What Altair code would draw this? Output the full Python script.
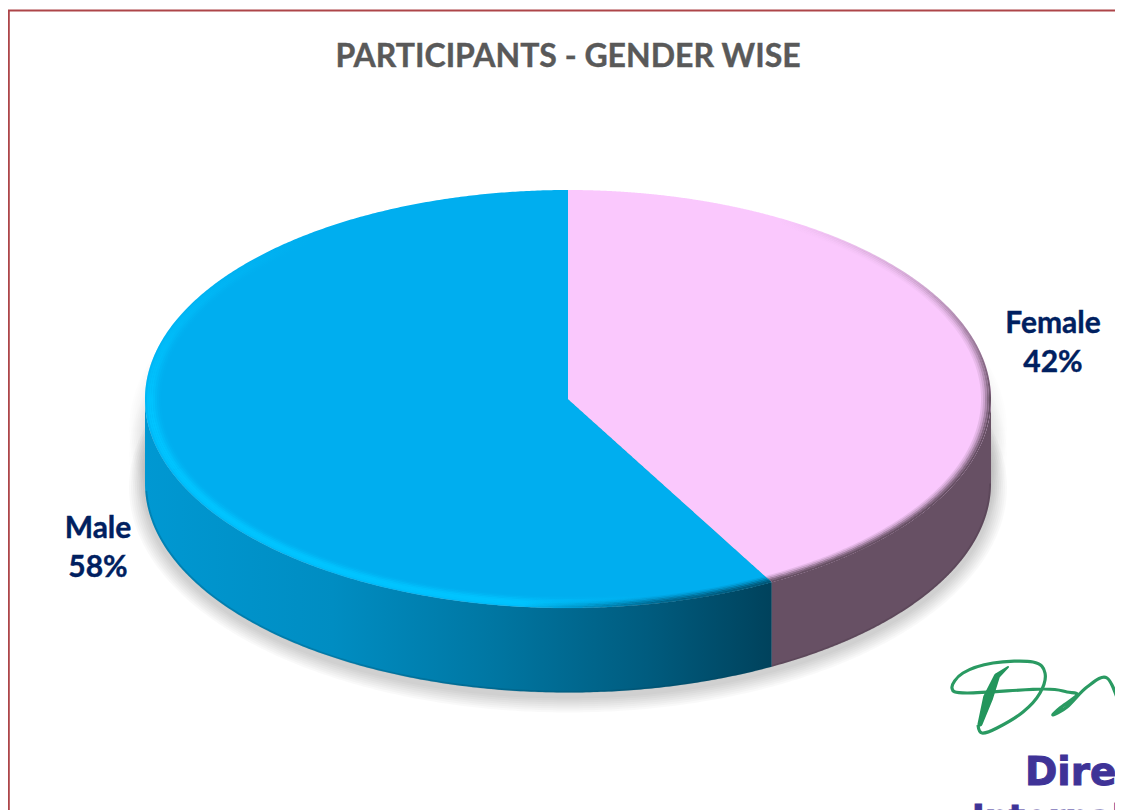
import numpy as np
import pandas as pd
import altair as alt

# ---- values ----
categories = ["Female", "Male"]
shares = [42, 58]
title_text = "PARTICIPANTS - GENDER WISE"
logo_lines = ["Direc", "Internal"]
sig_x = [1120, 1107, 1087, 1067, 1053, 1060, 1077, 1067, 1043, 967, 952, 963, 993, 1033, 1045, 1040, 1023, 997, 982, 978]
sig_y = [707, 678, 687, 707, 715, 708, 695, 692, 689, 693, 688, 673, 663, 662, 673, 693, 712, 728, 733, 725]
stroke_x = [1008, 997, 988, 980]
stroke_y = [667, 676, 698, 724]
stroke_w = [2, 6, 10, 5]

# ---- picture frame and pie geometry (picture pixels) ----
W, H = 1107, 802
CX, CY, RX, RY, DEPTH = 568.0, 399.0, 423.0, 209.0, 84.5
split = np.radians(shares[0] / sum(shares) * 360)
SX, SY = CX + RX * np.sin(split), CY - RY * np.cos(split)

xs = alt.Scale(domain=[8, 8 + W], range=[0, W], nice=False, zero=False)
ys = alt.Scale(domain=[8 + H, 8], range=[H, 0], nice=False, zero=False)
X = alt.X("x:Q", scale=xs, axis=None)
Y = alt.Y("y:Q", scale=ys, axis=None)


def span(a, b, n=240):
    ta = np.arccos(np.clip((a - CX) / RX, -1, 1))
    tb = np.arccos(np.clip((b - CX) / RX, -1, 1))
    return CX + RX * np.cos(np.linspace(ta, tb, n))


def half(x, sign, rx=RX, ry=RY, cy=CY):
    return cy + sign * ry * np.sqrt(np.clip(1 - ((x - CX) / rx) ** 2, 0, 1))


def slice_line(x):
    return CY + (x - CX) * (SY - CY) / (SX - CX)


def area(x, y, y2, color, opacity=1.0):
    df = pd.DataFrame({"x": x, "y": y, "y2": y2})
    return alt.Chart(df).mark_area(color=color, opacity=opacity, strokeWidth=0).encode(
        x=X, y=Y, y2="y2:Q"
    )


layers = []

# soft ground shadow
for cy_off, op in [(30, 0.009), (55, 0.009), (DEPTH + 4, 0.022)]:
    for g in range(1, 9):
        grow = g * 2.0
        x = CX + (RX + grow) * np.cos(np.linspace(np.pi, 0, 300))
        layers.append(area(x, half(x, -1, RX + grow, RY + grow, CY + cy_off),
                           half(x, 1, RX + grow, RY + grow, CY + cy_off), "#000000", op))

# side walls
x = span(CX - RX, SX)
male_wall = alt.LinearGradient(
    gradient="linear",
    stops=[
        alt.GradientStop(offset=0.0, color="#0098D2"),
        alt.GradientStop(offset=0.3, color="#008DC2"),
        alt.GradientStop(offset=0.55, color="#0077A3"),
        alt.GradientStop(offset=0.8, color="#005C7F"),
        alt.GradientStop(offset=1.0, color="#00425C"),
    ],
    x1=0, x2=1, y1=0, y2=0,
)
layers.append(area(x, half(x, 1), half(x, 1) + DEPTH, male_wall))
x = span(SX, CX + RX)
layers.append(area(x, half(x, 1), half(x, 1) + DEPTH, "#675064"))

# top faces: each slice is one area, its straight edges taken from the share
a1, a2 = span(CX - RX, CX), span(CX, SX)
layers.append(area(np.concatenate([a1, a2]),
                   np.concatenate([half(a1, -1), slice_line(a2)]),
                   np.concatenate([half(a1, 1), half(a2, 1)]), "#00AEEF"))
b1, b2 = span(CX, SX), span(SX, CX + RX)
layers.append(area(np.concatenate([b1, b2]),
                   np.concatenate([half(b1, -1), half(b2, -1)]),
                   np.concatenate([slice_line(b1), half(b2, 1)]), "#FAC8FD"))


def stops(rgb, pairs):
    return [alt.GradientStop(offset=o, color=f"rgba({rgb},{a})") for o, a in pairs]


def rim(t0, t1, insets, rgb, pairs, axis="x", depth=0.0, width=2.0):
    """Lines following the ellipse rim; transparency runs along a gradient."""
    out = []
    grad = alt.LinearGradient(
        gradient="linear", stops=stops(rgb, pairs),
        x1=0, y1=0, x2=1 if axis == "x" else 0, y2=0 if axis == "x" else 1,
    )
    ts = np.radians(np.linspace(t0, t1, 160))
    for d, op in insets:
        df = pd.DataFrame({
            "x": CX + (RX - d) * np.sin(ts),
            "y": CY + depth - (RY - 0.72 * d) * np.cos(ts),
            "i": range(len(ts)),
        })
        out.append(alt.Chart(df).mark_line(stroke=grad, strokeWidth=width, opacity=op).encode(
            x=X, y=Y, order="i:Q"))
    return out


bright = [(1, .5), (3, .9), (5, 1), (7, 1), (9, .8), (11, .5), (13, .25), (15, .08)]
layers += rim(250, 168, bright, "0,196,255", [(0, 1), (0.7, 1), (1, 0)], "x")
layers += rim(250, 322, bright, "0,196,255", [(0, 0), (0.75, 1), (1, 1)], "y")
layers += rim(151.2, 186, [(1, .8), (3, .65), (5, .45), (7, .25), (9, .1)], "0,69,96",
              [(0, 0), (0.6, 0.8), (1, 1)], "x")
dark = [(1, 1), (3, .8), (5, .55), (7, .3), (9, .14)]
layers += rim(90, 151.2, dark, "103,80,100", [(0, 1), (1, 1)], "x")
layers += rim(90, 30, dark, "103,80,100", [(0, 0), (0.35, .25), (1, 1)], "y")
# slightly darker lower edge of the walls
layers += rim(90, 151.2, [(1, .22)], "58,42,56", [(0, 1), (1, 1)], "x", depth=DEPTH)
layers += rim(151.2, 268, [(1, .25)], "0,66,92", [(0, 1), (1, 1)], "x", depth=DEPTH)

# frame of the slide
frame_x = pd.DataFrame({"x": [8], "x2": [8 + W], "y": [10.5], "y2": [10.5]})
frame_y = pd.DataFrame({"x": [8.8], "x2": [8.8], "y": [10], "y2": [8 + H]})
for fr in (frame_x, frame_y):
    layers.append(alt.Chart(fr).mark_rule(color="#AD4549", strokeWidth=2).encode(
        x=X, y=Y, x2="x2:Q", y2="y2:Q"))


def text(rows, size, color, font="Lato", align="center", heavy=0.4):
    return alt.Chart(pd.DataFrame(rows)).mark_text(
        font=font, fontSize=size, fontWeight="bold", color=color, align=align, baseline="middle",
        stroke=color, strokeWidth=heavy,
    ).encode(x=X, y=Y, text="t:N")


layers.append(text([{"x": 568, "y": 57, "t": title_text}], 32, "#595959"))
layers.append(text([
    {"x": 1053, "y": 324, "t": categories[0]},
    {"x": 1053, "y": 363, "t": f"{shares[0]}%"},
    {"x": 98, "y": 529, "t": categories[1]},
    {"x": 98, "y": 568, "t": f"{shares[1]}%"},
], 30, "#002060"))

# logo signature and stamp text
sig = pd.DataFrame({"x": sig_x, "y": sig_y, "i": range(len(sig_x))})
layers.append(alt.Chart(sig).mark_line(color="#2A9A62", strokeWidth=3.2, interpolate="cardinal").encode(
    x=X, y=Y, order="i:Q"))
stroke = pd.DataFrame({"x": stroke_x, "y": stroke_y, "w": stroke_w, "i": range(len(stroke_x))})
layers.append(alt.Chart(stroke).mark_trail(color="#23955C").encode(
    x=X, y=Y, order="i:Q", size=alt.Size("w:Q", scale=None)))
layers.append(text([{"x": 1025, "y": 773, "t": logo_lines[0]}], 39, "#3F3397", "DejaVu Sans", "left", 1))
layers.append(text([{"x": 972, "y": 819, "t": logo_lines[1]}], 34, "#3F3397", "DejaVu Sans", "left", 1))

chart = alt.layer(*layers).properties(
    width=W, height=H, padding=0, background="#FFFFFF",
    autosize=alt.AutoSizeParams(type="none"),
).configure_view(stroke=None)

chart.save("out.html", embed_options={"renderer": "svg", "actions": False})
